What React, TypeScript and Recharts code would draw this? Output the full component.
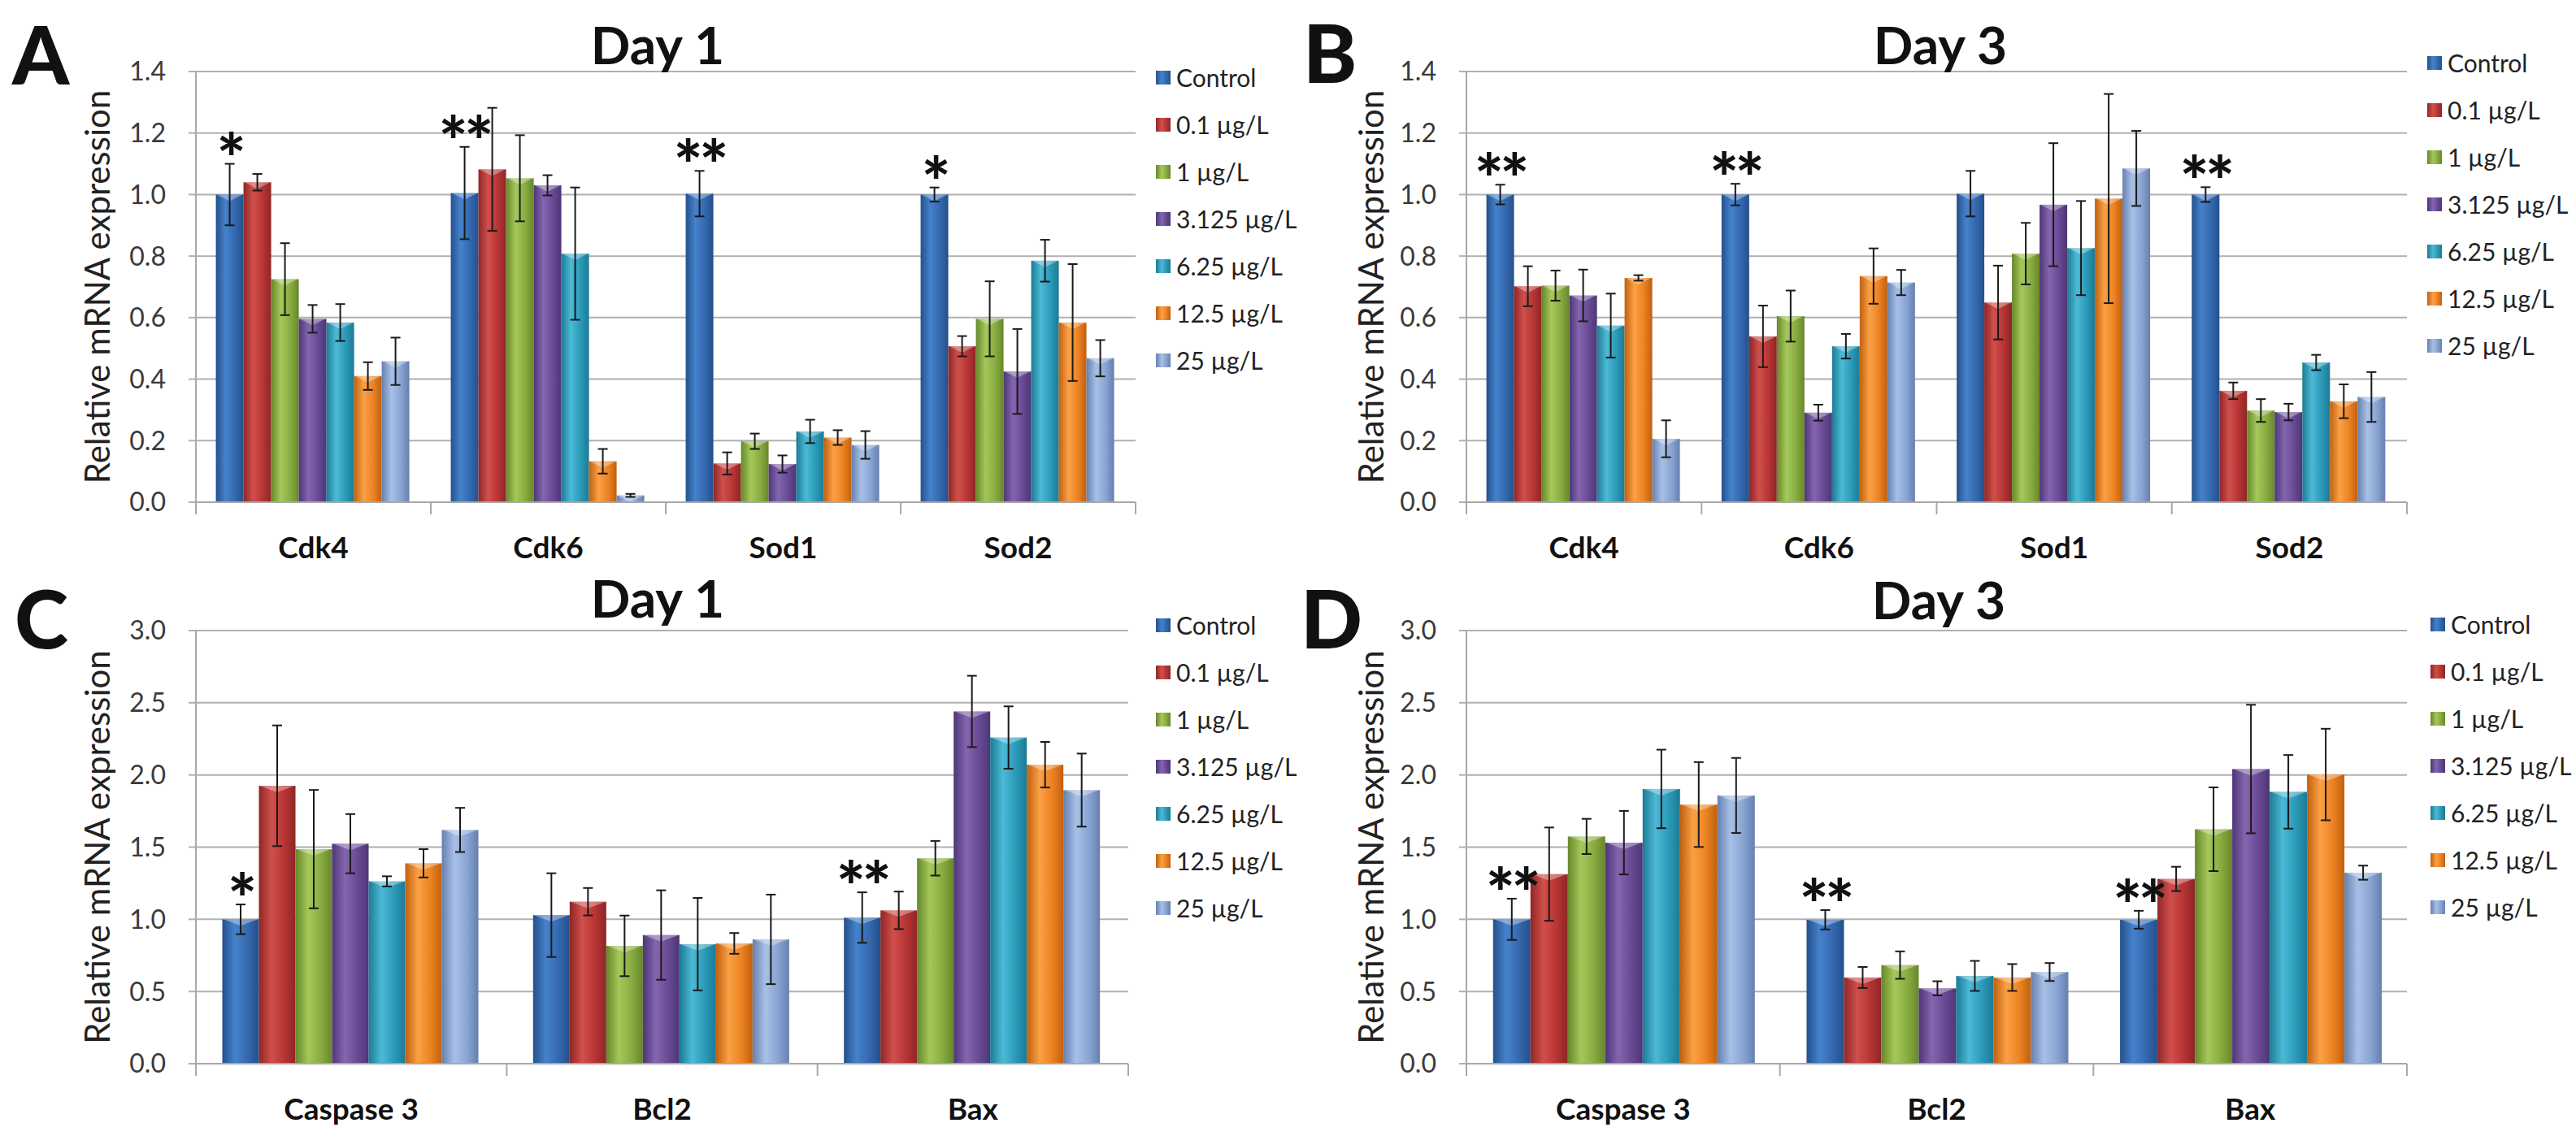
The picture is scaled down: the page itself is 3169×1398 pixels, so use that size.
import React from "react";
import {
  BarChart,
  Bar,
  XAxis,
  YAxis,
  CartesianGrid,
  ErrorBar,
  Legend,
  LabelList,
} from "recharts";

const FONT = "Lato, 'Open Sans', sans-serif";
const GRID = "#B0B0B0";
const AXIS = "#A8A8A8";

// series (doses)
const seriesNames = [
  "Control",
  "0.1 µg/L",
  "1 µg/L",
  "3.125 µg/L",
  "6.25 µg/L",
  "12.5 µg/L",
  "25 µg/L",
];

const seriesColors = [
  { dark: "#24508C", mid: "#3468AE", light: "#4582CC" },
  { dark: "#8E2626", mid: "#B73434", light: "#D0504C" },
  { dark: "#66872A", mid: "#88AC40", light: "#A5C85A" },
  { dark: "#4E3676", mid: "#684A94", light: "#8466B0" },
  { dark: "#1D7A94", mid: "#2A9AB8", light: "#4CBAD6" },
  { dark: "#C0600E", mid: "#EC8222", light: "#FBA146" },
  { dark: "#6680AE", mid: "#88A4D2", light: "#A8C0E6" },
];

// categories
const cellGenes = ["Cdk4", "Cdk6", "Sod1", "Sod2"];
const apopGenes = ["Caspase 3", "Bcl2", "Bax"];

// y ticks
const ticksLow = [0, 0.2, 0.4, 0.6, 0.8, 1.0, 1.2, 1.4];
const ticksHigh = [0, 0.5, 1.0, 1.5, 2.0, 2.5, 3.0];

// A: Day 1, cell cycle / antioxidant genes (rows = series)
const aMeans = [
  [1.0, 1.005, 1.003, 1.0],
  [1.04, 1.082, 0.126, 0.507],
  [0.725, 1.053, 0.198, 0.596],
  [0.596, 1.03, 0.124, 0.425],
  [0.584, 0.808, 0.23, 0.785],
  [0.41, 0.133, 0.21, 0.584],
  [0.458, 0.022, 0.186, 0.468],
];
const aErrs = [
  [0.1, 0.15, 0.074, 0.023],
  [0.027, 0.2, 0.036, 0.033],
  [0.117, 0.14, 0.025, 0.122],
  [0.045, 0.033, 0.028, 0.138],
  [0.06, 0.215, 0.038, 0.068],
  [0.045, 0.04, 0.024, 0.19],
  [0.077, 0.005, 0.045, 0.059],
];
const aSig = ["*", "**", "**", "*"];

// B: Day 3, cell cycle / antioxidant genes
const bMeans = [
  [1.0, 1.0, 1.003, 1.0],
  [0.702, 0.539, 0.649, 0.362],
  [0.704, 0.605, 0.808, 0.298],
  [0.672, 0.291, 0.967, 0.293],
  [0.574, 0.507, 0.826, 0.454],
  [0.729, 0.735, 0.987, 0.328],
  [0.206, 0.714, 1.085, 0.342],
];
const bErrs = [
  [0.032, 0.035, 0.074, 0.024],
  [0.065, 0.1, 0.12, 0.027],
  [0.049, 0.083, 0.1, 0.037],
  [0.084, 0.026, 0.2, 0.027],
  [0.104, 0.04, 0.153, 0.025],
  [0.009, 0.09, 0.34, 0.055],
  [0.06, 0.041, 0.122, 0.081],
];
const bSig = ["**", "**", "", "**"];

// C: Day 1, apoptosis genes
const cMeans = [
  [1.0, 1.029, 1.012],
  [1.925, 1.122, 1.062],
  [1.486, 0.816, 1.423],
  [1.524, 0.891, 2.44],
  [1.263, 0.828, 2.259],
  [1.388, 0.833, 2.071],
  [1.619, 0.861, 1.895],
];
const cErrs = [
  [0.103, 0.29, 0.175],
  [0.418, 0.095, 0.13],
  [0.41, 0.21, 0.12],
  [0.205, 0.31, 0.247],
  [0.035, 0.32, 0.216],
  [0.098, 0.072, 0.158],
  [0.153, 0.31, 0.253],
];
const cSig = ["*", "", "**"];

// D: Day 3, apoptosis genes
const dMeans = [
  [1.0, 0.997, 0.997],
  [1.313, 0.597, 1.28],
  [1.574, 0.683, 1.624],
  [1.531, 0.522, 2.041],
  [1.903, 0.608, 1.883],
  [1.795, 0.597, 2.003],
  [1.858, 0.635, 1.323],
];
const dErrs = [
  [0.143, 0.067, 0.062],
  [0.323, 0.073, 0.084],
  [0.122, 0.095, 0.29],
  [0.22, 0.049, 0.445],
  [0.272, 0.104, 0.255],
  [0.294, 0.093, 0.317],
  [0.26, 0.062, 0.049],
];
const dSig = ["**", "**", "**"];

function buildRows(cats: string[], means: number[][], errs: number[][]) {
  return cats.map((c, i) => {
    const row: Record<string, any> = { cat: c };
    means.forEach((m, s) => {
      row["v" + s] = m[i];
      row["e" + s] = errs[s][i];
    });
    return row;
  });
}

function shadedBar(props: any, s: number, prefix: string) {
  const { x, y, width, height } = props;
  if (!(height > 0)) return <g />;
  const capH = Math.min(8, height);
  return (
    <g>
      <rect x={x} y={y} width={width} height={height} fill={`url(#${prefix}-g${s})`} />
      <polygon
        points={`${x + 1},${y} ${x + width - 1},${y} ${x + width / 2},${y + capH}`}
        fill="#ffffff"
        fillOpacity={0.35}
      />
    </g>
  );
}

function CatTick(props: any) {
  const { x, y, payload, index, bw, n } = props;
  const half = payload && payload.offset > 0 ? payload.offset : bw / 2;
  return (
    <g>
      <line x1={x - half} x2={x - half} y1={y} y2={y + 15} stroke={AXIS} strokeWidth={2} />
      {index === n - 1 && (
        <line x1={x + half} x2={x + half} y1={y} y2={y + 15} stroke={AXIS} strokeWidth={2} />
      )}
      <text
        x={x}
        y={y + 69}
        textAnchor="middle"
        fontFamily={FONT}
        fontWeight={700}
        fontSize={37}
        fill="#111"
      >
        {payload.value}
      </text>
    </g>
  );
}

function legendContent() {
  return (
    <div style={{ fontFamily: FONT }}>
      {seriesNames.map((n, i) => {
        const c = seriesColors[i];
        return (
          <div key={n} style={{ display: "flex", alignItems: "center", height: 58 }}>
            <div
              style={{
                width: 18,
                height: 17,
                marginRight: 7,
                background: `linear-gradient(90deg, ${c.dark}, ${c.light} 40%, ${c.mid} 70%, ${c.dark})`,
              }}
            />
            <span style={{ fontSize: 30, color: "#222", whiteSpace: "nowrap" }}>{n}</span>
          </div>
        );
      })}
    </div>
  );
}

interface PanelProps {
  id: string;
  left: number;
  top: number;
  width: number;
  height: number;
  marginTop: number;
  marginRight: number;
  yAxisWidth: number;
  xAxisHeight: number;
  cats: string[];
  means: number[][];
  errs: number[][];
  sig: string[];
  ticks: number[];
  legendLeft: number;
  legendTop: number;
}

function Panel(p: PanelProps) {
  const rows = buildRows(p.cats, p.means, p.errs);
  const plotW = p.width - p.marginRight - p.yAxisWidth;
  const bw = plotW / p.cats.length;
  const yMax = p.ticks[p.ticks.length - 1];

  // significance stars sit just above the control bar's error bar
  const sigLabel = (props: any) => {
    const vb = props.viewBox ?? props;
    const i = props.index;
    const mark = p.sig[i];
    if (!mark || !vb) return null;
    const pxPerUnit = vb.height / p.means[0][i];
    const errTop = vb.y - p.errs[0][i] * pxPerUnit;
    return (
      <text
        x={vb.x + vb.width / 2}
        y={errTop + 24}
        textAnchor="middle"
        fontFamily={FONT}
        fontWeight={900}
        fontSize={84}
        letterSpacing={-4}
        fill="#111"
      >
        {mark}
      </text>
    );
  };

  return (
    <div style={{ position: "absolute", left: p.left, top: p.top }}>
      <BarChart
        width={p.width}
        height={p.height}
        data={rows}
        margin={{ top: p.marginTop, right: p.marginRight, bottom: 0, left: 0 }}
        barCategoryGap="8.5%"
        barGap={0}
      >
        <defs>
          {seriesColors.map((c, s) => (
            <linearGradient key={s} id={`${p.id}-g${s}`} x1="0" x2="1" y1="0" y2="0">
              <stop offset="0%" stopColor={c.dark} />
              <stop offset="35%" stopColor={c.light} />
              <stop offset="70%" stopColor={c.mid} />
              <stop offset="100%" stopColor={c.dark} />
            </linearGradient>
          ))}
        </defs>
        <CartesianGrid vertical={false} stroke={GRID} strokeWidth={2} />
        <XAxis
          dataKey="cat"
          interval={0}
          height={p.xAxisHeight}
          axisLine={{ stroke: AXIS, strokeWidth: 2 }}
          tickLine={false}
          tickSize={0}
          tickMargin={0}
          tick={(t: any) => <CatTick {...t} bw={bw} n={p.cats.length} />}
        />
        <YAxis
          width={p.yAxisWidth}
          domain={[0, yMax]}
          ticks={p.ticks}
          allowDataOverflow
          tickFormatter={(v: number) => v.toFixed(1)}
          tick={{ fontSize: 32, fill: "#3a3a3a", fontFamily: FONT }}
          tickLine={{ stroke: GRID, strokeWidth: 2 }}
          tickSize={9}
          tickMargin={28}
          axisLine={{ stroke: AXIS, strokeWidth: 2 }}
          label={{
            value: "Relative mRNA expression",
            angle: -90,
            position: "center",
            style: { fontSize: 42, fill: "#222", fontFamily: FONT, textAnchor: "middle" },
          }}
        />
        <Legend
          layout="vertical"
          align="center"
          verticalAlign="middle"
          content={legendContent}
          wrapperStyle={{ left: p.legendLeft, top: p.legendTop, width: 178, height: 410 }}
        />
        {seriesNames.map((n, s) => (
          <Bar
            key={n}
            dataKey={"v" + s}
            name={n}
            fill={seriesColors[s].mid}
            isAnimationActive={false}
            shape={(bp: any) => shadedBar(bp, s, p.id)}
          >
            <ErrorBar
              dataKey={"e" + s}
              width={6}
              strokeWidth={2}
              stroke="#1a1a1a"
              direction="y"
              isAnimationActive={false}
            />
            {s === 0 && <LabelList dataKey="cat" content={sigLabel} />}
          </Bar>
        ))}
      </BarChart>
    </div>
  );
}

export default function App() {
  return (
    <div
      style={{
        position: "absolute",
        left: 0,
        top: 0,
        width: 3169,
        height: 1398,
        background: "#fff",
        overflow: "hidden",
      }}
    >
      <Panel
        id="pa"
        left={0}
        top={0}
        width={1570}
        height={700}
        marginTop={88}
        marginRight={173}
        yAxisWidth={241}
        xAxisHeight={82}
        cats={cellGenes}
        means={aMeans}
        errs={aErrs}
        sig={aSig}
        ticks={ticksLow}
        legendLeft={1422}
        legendTop={66}
      />
      <Panel
        id="pb"
        left={1570}
        top={0}
        width={1599}
        height={700}
        marginTop={88}
        marginRight={208}
        yAxisWidth={234}
        xAxisHeight={82}
        cats={cellGenes}
        means={bMeans}
        errs={bErrs}
        sig={bSig}
        ticks={ticksLow}
        legendLeft={1416}
        legendTop={48}
      />
      <Panel
        id="pc"
        left={0}
        top={700}
        width={1570}
        height={698}
        marginTop={76}
        marginRight={182}
        yAxisWidth={241}
        xAxisHeight={89}
        cats={apopGenes}
        means={cMeans}
        errs={cErrs}
        sig={cSig}
        ticks={ticksHigh}
        legendLeft={1422}
        legendTop={40}
      />
      <Panel
        id="pd"
        left={1570}
        top={700}
        width={1599}
        height={698}
        marginTop={76}
        marginRight={208}
        yAxisWidth={234}
        xAxisHeight={89}
        cats={apopGenes}
        means={dMeans}
        errs={dErrs}
        sig={dSig}
        ticks={ticksHigh}
        legendLeft={1420}
        legendTop={39}
      />
      <svg
        width={3169}
        height={1398}
        style={{ position: "absolute", left: 0, top: 0, pointerEvents: "none" }}
      >
        <g fontFamily={FONT} fill="#111">
          <text x={15} y={104} fontSize={100} fontWeight={900}>A</text>
          <text x={1603} y={102} fontSize={100} fontWeight={900}>B</text>
          <text x={18} y={798} fontSize={100} fontWeight={900}>C</text>
          <text x={1600} y={798} fontSize={100} fontWeight={900}>D</text>
          <text x={809} y={79} fontSize={64} fontWeight={700} textAnchor="middle">Day 1</text>
          <text x={2387} y={79} fontSize={64} fontWeight={700} textAnchor="middle">Day 3</text>
          <text x={809} y={760} fontSize={64} fontWeight={700} textAnchor="middle">Day 1</text>
          <text x={2385} y={762} fontSize={64} fontWeight={700} textAnchor="middle">Day 3</text>
        </g>
      </svg>
    </div>
  );
}
